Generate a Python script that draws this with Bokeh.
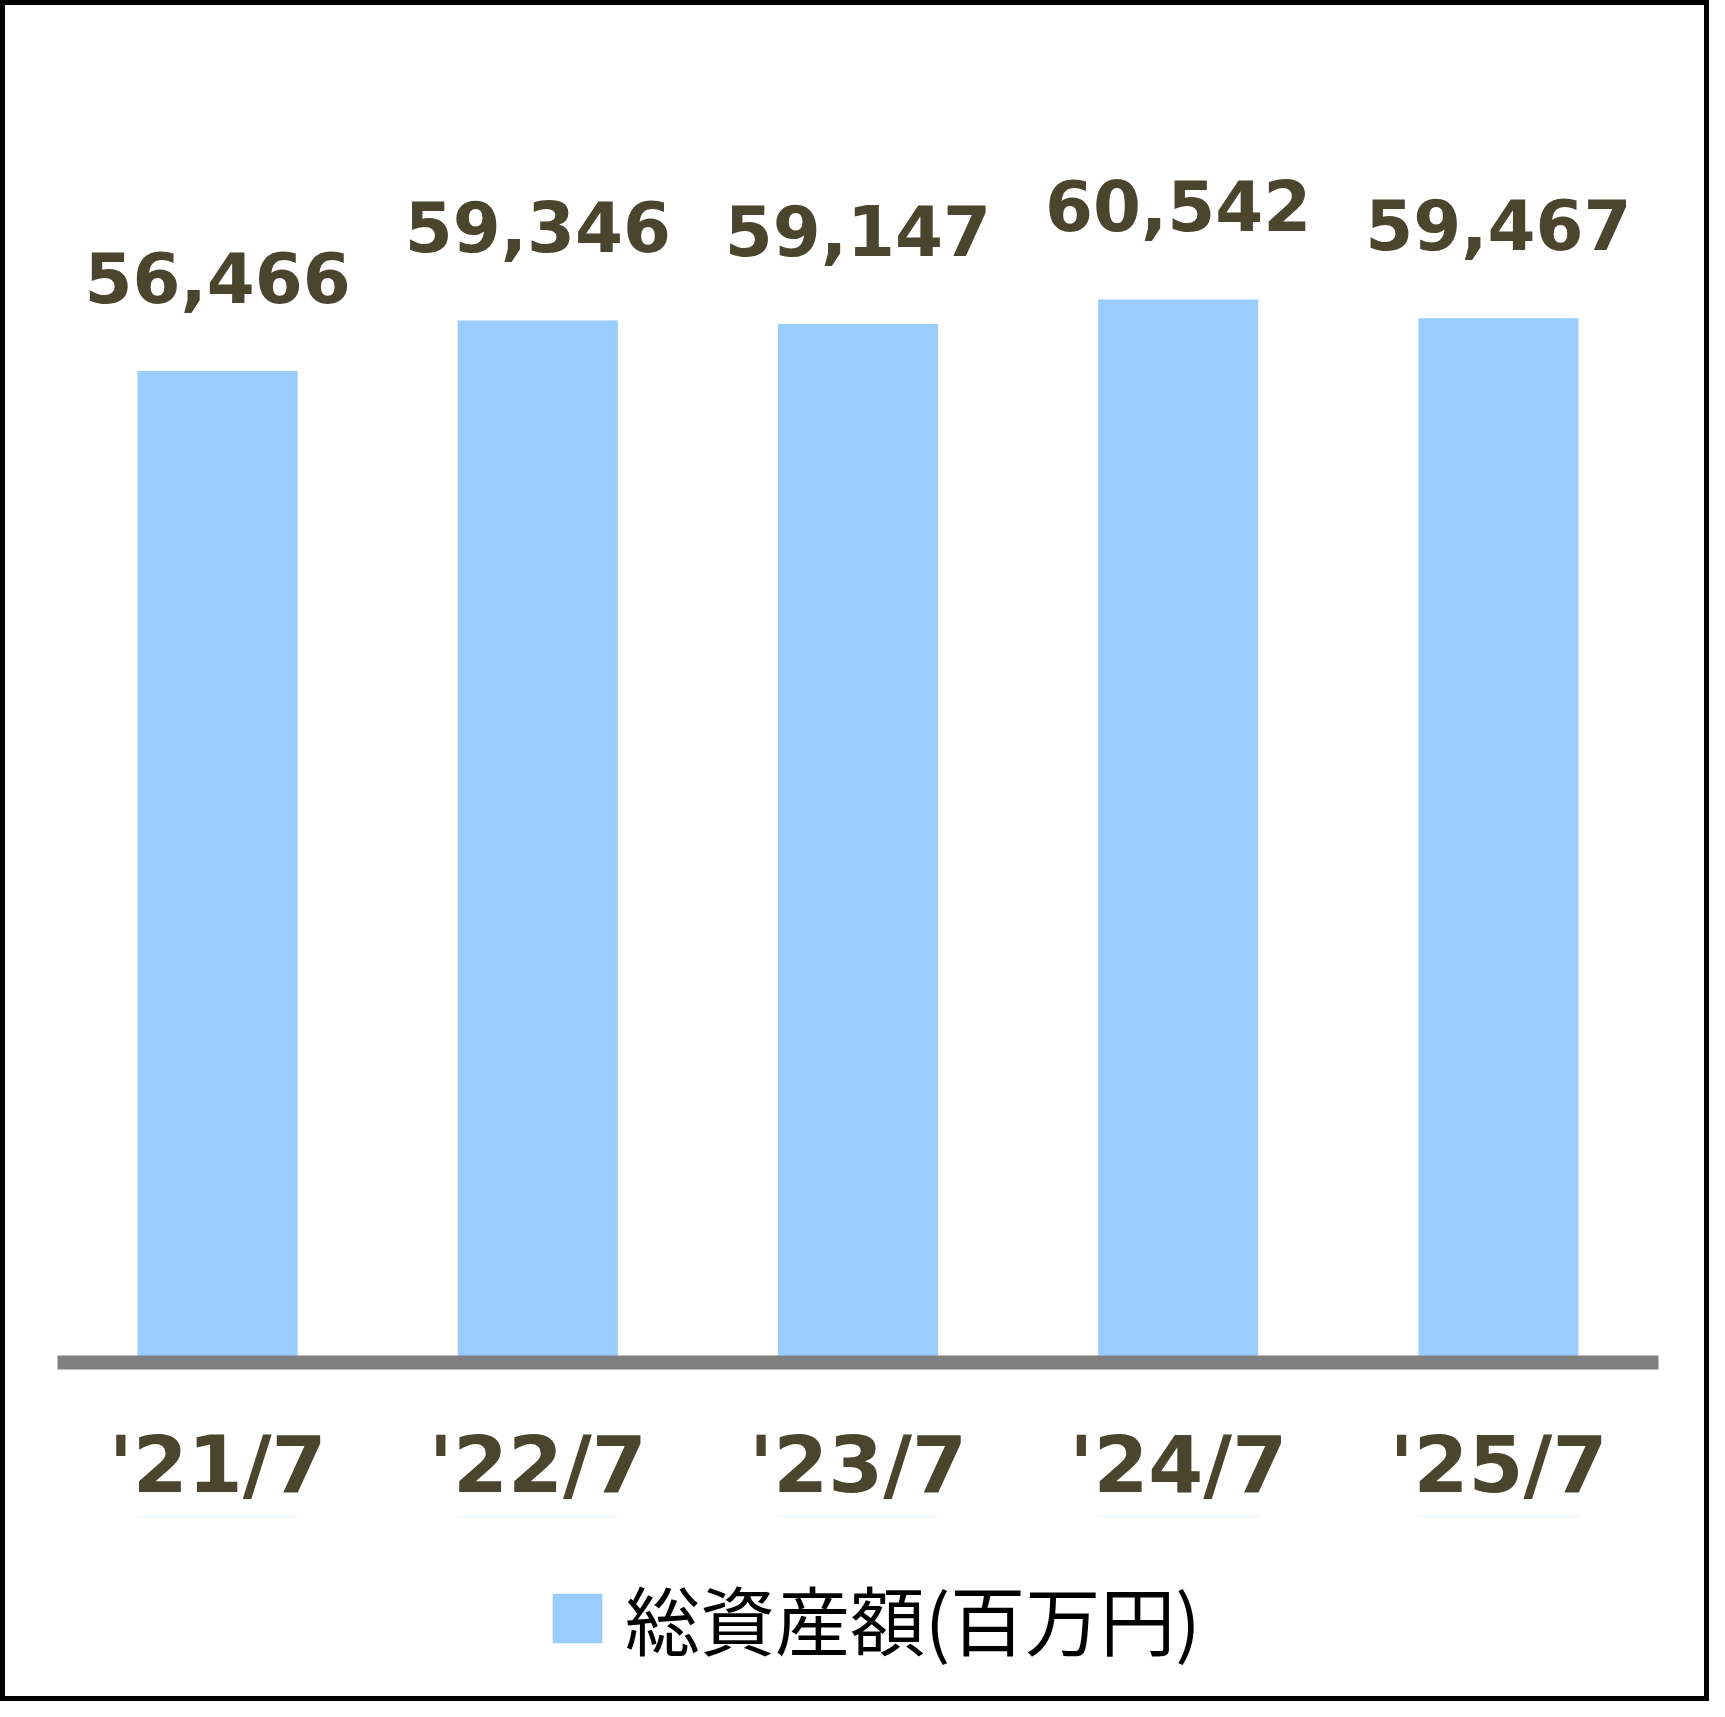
from bokeh.plotting import figure
from bokeh.models import ColumnDataSource, LabelSet, Legend, LegendItem, FactorRange, Range1d
from bokeh.layouts import column
from bokeh.core.properties import value
from bokeh.embed import file_html
from bokeh.resources import INLINE

categories = ["'21/7", "'22/7", "'23/7", "'24/7", "'25/7"]
values = [56466, 59346, 59147, 60542, 59467]
series_name = "総資産額(百万円)"
BAR = "#99CCFF"
TXT = "#4B452D"

labels = ["{:,}".format(v) for v in values]
src = ColumnDataSource(dict(cat=categories, val=values, lab=labels))
xr = FactorRange(*categories, range_padding=0)

p = figure(frame_width=1601, frame_height=1339, output_backend="svg", toolbar_location=None,
           x_range=xr, y_range=(0, 76260),
           min_border_left=52, min_border_right=46, min_border_top=18, min_border_bottom=154)
p.background_fill_color = "white"
p.border_fill_color = "white"
p.outline_line_color = None
p.grid.visible = False
p.yaxis.visible = False

r = p.vbar(x="cat", top="val", width=0.5, source=src, fill_color=BAR, line_color=None)

ax = p.xaxis[0]
ax.axis_line_color = "#808080"
ax.axis_line_width = 14
ax.major_tick_line_color = None
ax.minor_tick_line_color = None
ax.major_tick_out = 0
ax.major_label_standoff = 56
ax.major_label_text_font = "DejaVu Sans"
ax.major_label_text_font_style = "bold"
ax.major_label_text_font_size = "79px"
ax.major_label_text_color = TXT

ls = LabelSet(x="cat", y="val", text="lab", source=src, y_offset=68,
              text_align="center", text_baseline="alphabetic",
              text_font=value("DejaVu Sans"), text_font_style="bold",
              text_font_size="69px", text_color=TXT)
p.add_layout(ls)

# legend strip below the chart (same series, drawn with zero height outside this strip)
p2 = figure(frame_width=1601, frame_height=180, output_backend="svg", toolbar_location=None,
            x_range=xr, y_range=Range1d(-2, -1),
            min_border_left=52, min_border_right=46, min_border_top=0, min_border_bottom=0)
p2.axis.visible = False
p2.grid.visible = False
p2.outline_line_color = None
p2.background_fill_color = "white"
p2.border_fill_color = "white"
r2 = p2.vbar(x="cat", top="val", bottom="val", width=0.5, source=src,
             fill_color=BAR, line_color=None)
leg = Legend(items=[LegendItem(label=series_name, renderers=[r2])],
             location=(489, 24), orientation="horizontal",
             glyph_width=62, glyph_height=62, label_standoff=17,
             label_text_font="Noto Sans CJK JP", label_text_font_size="75px",
             label_text_color="black", border_line_color=None,
             background_fill_alpha=0, margin=0, padding=0, label_height=62)
p2.add_layout(leg, "center")

lay = column(p, p2, spacing=0)
lay.styles = {"border": "5px solid black", "background": "white"}

open("out.html", "w").write(file_html(lay, INLINE))
